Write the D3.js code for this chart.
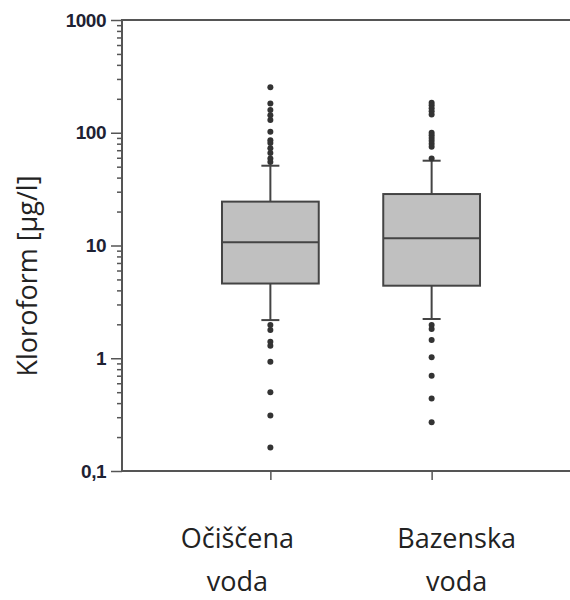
<!DOCTYPE html>
<html>
<head>
<meta charset="utf-8">
<script src="https://cdnjs.cloudflare.com/ajax/libs/d3/7.8.5/d3.min.js"></script>
<style>
  body { margin: 0; background: #fff; }
  svg { display: block; }
  .tick text { font-family: "Liberation Sans", Arial, sans-serif; font-weight: bold; font-size: 19px; fill: #1e2233; letter-spacing: -0.5px; }
  .label { font-family: "Open Sans", "Noto Sans", sans-serif; font-size: 27px; fill: #222; }
</style>
</head>
<body>
<svg width="570" height="600"></svg>
<script>
// categories (two text rows each)
var categories = ["Očiščena voda", "Bazenska voda"];
var catLines = [["Očiščena", "voda"], ["Bazenska", "voda"]];

// box statistics, µg/l
var q1 = [4.6, 4.4];
var medians = [10.7, 11.6];
var q3 = [24.5, 28.6];
var whiskLo = [2.18, 2.23];
var whiskHi = [51, 56.5];

// outliers
var outliers1 = [253, 182, 159, 143, 130, 102, 86, 81, 73, 66, 59, 55,
                 1.97, 1.78, 1.40, 1.29, 0.93, 0.50, 0.31, 0.162];
var outliers2 = [185, 175, 165, 155, 145, 100, 95, 90, 85, 80, 75, 59,
                 1.97, 1.82, 1.45, 1.02, 0.70, 0.44, 0.27];
var outliers = [outliers1, outliers2];

var yMajor = [0.1, 1, 10, 100, 1000];
var yTickLabels = ["0,1", "1", "10", "100", "1000"];

var margin = { top: 20, left: 122, bottom: 129, right: -10 },
    W = 570, H = 600;
var plotBottom = H - margin.bottom,
    plotRight = W - margin.right;

var svg = d3.select("svg");

var x = d3.scalePoint()
    .domain(categories)
    .range([margin.left, plotRight])
    .padding(0.92);

var y = d3.scaleLog()
    .domain([0.1, 1000])
    .range([plotBottom, margin.top]);

var boxW = x.step() * 0.6;
var stroke = "#444";

// minor ticks
var yMinor = [];
yMajor.slice(0, -1).forEach(function(m) {
    for (var k = 2; k <= 9; k++) yMinor.push(m * k);
});

svg.append("g")
    .attr("transform", "translate(" + margin.left + ",0)")
    .call(d3.axisLeft(y).tickValues(yMinor).tickSize(5).tickFormat(""))
    .call(function(g) { g.select(".domain").remove(); })
    .selectAll("line").attr("stroke", "#555").attr("stroke-width", 1.5);

svg.append("g")
    .attr("transform", "translate(" + margin.left + ",0)")
    .call(d3.axisLeft(y).tickValues(yMajor).tickSize(11).tickPadding(5)
        .tickFormat(function(d, i) { return yTickLabels[i]; }))
    .call(function(g) { g.select(".domain").remove(); })
    .selectAll("line").attr("stroke", "#555").attr("stroke-width", 1.5);

// frame
svg.append("path")
    .attr("d", "M" + plotRight + "," + margin.top + "H" + margin.left + "V" + plotBottom + "H" + plotRight)
    .attr("fill", "none")
    .attr("stroke", "#555")
    .attr("stroke-width", 2);

// x ticks
svg.append("g")
    .attr("transform", "translate(0," + plotBottom + ")")
    .call(d3.axisBottom(x).tickSize(9).tickFormat(""))
    .call(function(g) { g.select(".domain").remove(); })
    .selectAll("line").attr("stroke", "#555").attr("stroke-width", 1.5);

// boxes
categories.forEach(function(c, i) {
    var cx = x(c);
    var g = svg.append("g");
    g.append("line")
        .attr("x1", cx).attr("x2", cx)
        .attr("y1", y(whiskHi[i])).attr("y2", y(q3[i]))
        .attr("stroke", stroke).attr("stroke-width", 2);
    g.append("line")
        .attr("x1", cx).attr("x2", cx)
        .attr("y1", y(q1[i])).attr("y2", y(whiskLo[i]))
        .attr("stroke", stroke).attr("stroke-width", 2);
    [whiskHi[i], whiskLo[i]].forEach(function(v) {
        g.append("line")
            .attr("x1", cx - 9).attr("x2", cx + 9)
            .attr("y1", y(v)).attr("y2", y(v))
            .attr("stroke", stroke).attr("stroke-width", 2);
    });
    g.append("rect")
        .attr("x", cx - boxW / 2)
        .attr("y", y(q3[i]))
        .attr("width", boxW)
        .attr("height", y(q1[i]) - y(q3[i]))
        .attr("fill", "#c0c0c0")
        .attr("stroke", stroke)
        .attr("stroke-width", 2);
    g.append("line")
        .attr("x1", cx - boxW / 2).attr("x2", cx + boxW / 2)
        .attr("y1", y(medians[i])).attr("y2", y(medians[i]))
        .attr("stroke", stroke).attr("stroke-width", 2);
    g.selectAll("circle")
        .data(outliers[i])
        .enter().append("circle")
        .attr("cx", cx)
        .attr("cy", function(d) { return y(d); })
        .attr("r", 3)
        .attr("fill", "#333");
});

// category labels (offset from the ticks as in the original)
var labelShift = [-33, 25];
categories.forEach(function(c, i) {
    var t = svg.append("text")
        .attr("class", "label")
        .attr("text-anchor", "middle");
    catLines[i].forEach(function(s, j) {
        t.append("tspan")
            .attr("x", x(c) + labelShift[i])
            .attr("y", 548 + j * 43)
            .text(s);
    });
});

// y axis title
svg.append("text")
    .attr("class", "label")
    .attr("text-anchor", "middle")
    .attr("transform", "translate(37," + 276 + ") rotate(-90)")
    .text("Kloroform [µg/l]");
</script>
</body>
</html>
